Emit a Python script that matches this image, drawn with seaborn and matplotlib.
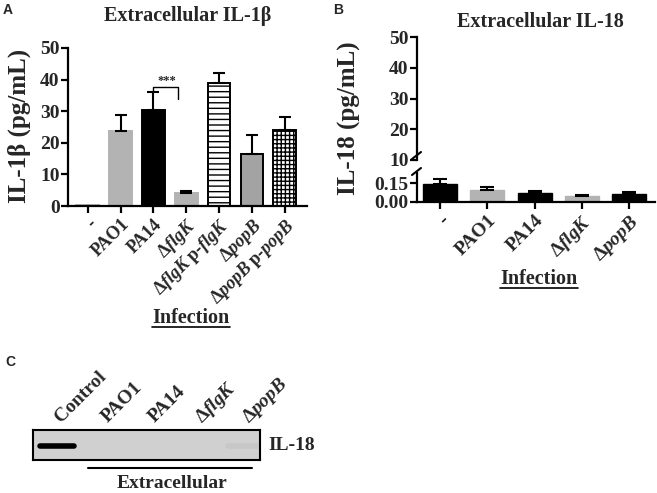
import numpy as np
import pandas as pd
import matplotlib
matplotlib.use("Agg")
import matplotlib.pyplot as plt
from matplotlib.lines import Line2D
import seaborn as sns

# panel A - extracellular IL-1b
strains_a = ["-", "PAO1", "PA14", "dflgK", "dflgK p-flgK", "dpopB", "dpopB p-popB"]
ticks_a = ["-", "PAO1", "PA14", r"Δ$\it{flgK}$", r"Δ$\it{flgK}$ p-$\it{flgK}$",
           r"Δ$\it{popB}$", r"Δ$\it{popB}$ p-$\it{popB}$"]
il1b_mean = [0.3, 23.8, 30.3, 4.1, 38.9, 16.3, 23.9]
il1b_err = [0.0, 5.0, 5.8, 0.8, 3.1, 6.3, 4.3]
fill_a = ["#b3b3b3", "#b3b3b3", "black", "#b3b3b3", "white", "#a3a3a3", "white"]
edge_a = ["#b3b3b3", "#b3b3b3", "black", "#b3b3b3", "black", "black", "black"]
hatch_a = ["", "", "", "", "---", "", "++++"]

# panel B - extracellular IL-18
strains_b = ["-", "PAO1", "PA14", "dflgK", "dpopB"]
ticks_b = ["-", "PAO1", "PA14", r"Δ$\it{flgK}$", r"Δ$\it{popB}$"]
il18_mean = [0.142, 0.095, 0.070, 0.050, 0.063]
il18_err = [0.038, 0.025, 0.015, 0.006, 0.014]
fill_b = ["black", "#b3b3b3", "black", "#b3b3b3", "black"]

# panel C - western blot lanes
lanes = ["Control", "PAO1", "PA14", r"Δ$\it{flgK}$", r"Δ$\it{popB}$"]
band = [1.0, 0.0, 0.0, 0.0, 0.04]

sns.set_theme(style="ticks")
plt.rcParams["font.family"] = ["Liberation Serif", "DejaVu Serif"]
plt.rcParams["font.weight"] = "bold"
plt.rcParams["mathtext.fontset"] = "custom"
plt.rcParams["mathtext.rm"] = "Liberation Serif:bold"
plt.rcParams["mathtext.it"] = "Liberation Serif:italic:bold"
plt.rcParams["mathtext.bf"] = "Liberation Serif:bold"
plt.rcParams["hatch.linewidth"] = 1.0
plt.rcParams["axes.linewidth"] = 1.6

W, H = 657, 493
fig = plt.figure(figsize=(6.57, 4.93), dpi=100)


def fx(px):
    return px / W


def fy(py):
    return 1 - py / H


def style_axis(ax, ylab_size=14, xlab_size=13):
    ax.tick_params(axis="both", width=1.6, length=5, direction="out", color="black")
    ax.tick_params(axis="y", labelsize=ylab_size, pad=1)
    ax.tick_params(axis="x", labelsize=xlab_size, pad=2)
    for s in ["left", "bottom"]:
        ax.spines[s].set_color("black")
    ax.set_facecolor("white")


# ---------- A ----------
ax_a = fig.add_axes([fx(68), fy(206), fx(307 - 68), (206 - 48) / H])
df_a = pd.DataFrame({"strain": strains_a, "value": il1b_mean})
sns.barplot(data=df_a, x="strain", y="value", hue="strain", order=strains_a,
            hue_order=strains_a, palette=dict(zip(strains_a, fill_a)),
            saturation=1, width=0.69, errorbar=None, legend=False, ax=ax_a)
for p, ec, h in zip(ax_a.patches, edge_a, hatch_a):
    p.set_edgecolor(ec)
    p.set_linewidth(1.4)
    p.set_hatch(h)
idx = [i for i in range(len(il1b_err)) if il1b_err[i] > 0]
ax_a.errorbar(idx, [il1b_mean[i] for i in idx],
              yerr=[[0] * len(idx), [il1b_err[i] for i in idx]],
              fmt="none", ecolor="black", elinewidth=1.5, capsize=4.5, capthick=1.5, zorder=1)
ax_a.set_ylim(0, 50)
ax_a.set_yticks([0, 10, 20, 30, 40, 50])
ax_a.set_xlim(-0.6, 6.68)
ax_a.set_xticks(range(len(ticks_a)))
ax_a.set_xticklabels(ticks_a, rotation=45, ha="right", rotation_mode="anchor")
ax_a.set_xlabel("")
ax_a.set_ylabel("")
sns.despine(ax=ax_a)
style_axis(ax_a, 14, 13)
# significance bracket PA14 vs dflgK
ax_a.plot([2, 2, 2.75, 2.75], [36.3, 37.7, 37.7, 34.0], color="black", lw=1.0)
ax_a.text(2.4, 37.6, "***", ha="center", va="bottom", fontsize=9)

# ---------- B (broken axis) ----------
ax_bt = fig.add_axes([fx(417), fy(160), fx(655 - 417), (160 - 37) / H])
ax_bb = fig.add_axes([fx(417), fy(202), fx(655 - 417), (202 - 173) / H])
df_b = pd.DataFrame({"strain": strains_b, "value": il18_mean})
sns.barplot(data=df_b, x="strain", y="value", hue="strain", order=strains_b,
            hue_order=strains_b, palette=dict(zip(strains_b, fill_b)),
            saturation=1, width=0.72, errorbar=None, legend=False, ax=ax_bb)
for p, c in zip(ax_bb.patches, fill_b):
    p.set_edgecolor(c)
ax_bb.errorbar(range(len(strains_b)), il18_mean,
               yerr=[[0] * len(il18_err), il18_err],
               fmt="none", ecolor="black", elinewidth=1.5, capsize=5, capthick=1.5, zorder=1)
for ax in (ax_bt, ax_bb):
    ax.set_xlim(-0.49, 4.55)
    ax.set_xlabel("")
    ax.set_ylabel("")
ax_bt.set_ylim(10, 50)
ax_bt.set_yticks([10, 20, 30, 40, 50])
ax_bt.set_xticks([])
sns.despine(ax=ax_bt, bottom=True)
style_axis(ax_bt, 14, 13)
ax_bb.set_ylim(0, 0.23)
ax_bb.set_yticks([0, 0.15])
ax_bb.set_yticklabels(["0.00", "0.15"])
ax_bb.set_xticks(range(len(ticks_b)))
ax_bb.set_xticklabels(ticks_b, rotation=45, ha="right", rotation_mode="anchor")
sns.despine(ax=ax_bb)
style_axis(ax_bb, 14, 14)
for y0 in (159, 175):
    fig.add_artist(Line2D([fx(412), fx(421)], [fy(y0), fy(y0 - 7)], color="black", lw=1.5))

# ---------- C (blot) ----------
ax_c = fig.add_axes([fx(33), fy(460), fx(260 - 33), 30 / H])
ax_c.set_facecolor("#d0d0d0")
for i, b in enumerate(band):
    if b > 0:
        ax_c.plot([i - 0.36, i + 0.36], [0, 0], color="black", alpha=b, lw=4,
                  solid_capstyle="round")
ax_c.set_xlim(-0.52, 4.33)
ax_c.set_ylim(-1, 1.1)
ax_c.set_xticks([])
ax_c.set_yticks([])
for s in ax_c.spines.values():
    s.set_visible(True)
    s.set_color("black")
    s.set_linewidth(1.5)
for i, lab in enumerate(lanes):
    ax_c.text(i + 0.08, 1.22, lab, transform=ax_c.get_xaxis_transform(),
              rotation=45, ha="left", va="baseline", rotation_mode="anchor", fontsize=14)
fig.text(fx(268), fy(445), "IL-18", ha="left", va="center", fontsize=14)
fig.add_artist(Line2D([fx(88), fx(252)], [fy(468), fy(468)], color="black", lw=1.5))
fig.text(fx(172), fy(484), "Extracellular", ha="center", va="center", fontsize=14)

# ---------- titles, labels ----------
fig.text(fx(188), fy(16), "Extracellular IL-1β", ha="center", va="center", fontsize=14.5)
fig.text(fx(540), fy(22), "Extracellular IL-18", ha="center", va="center", fontsize=14.5)
fig.text(fx(19), fy(126), "IL-1β (pg/mL)", rotation=90, ha="center", va="center", fontsize=18)
fig.text(fx(349), fy(118), "IL-18 (pg/mL)", rotation=90, ha="center", va="center", fontsize=18)
inf_a = fig.text(fx(191), fy(318), "Infection", ha="center", va="center", fontsize=14.5)
inf_b = fig.text(fx(539), fy(279), "Infection", ha="center", va="center", fontsize=14.5)
for lab, (x, y) in zip("ABC", [(8, 10), (338, 10), (10, 362)]):
    fig.text(fx(x), fy(y), lab, ha="center", va="center", fontsize=10,
             family="Liberation Sans", weight="bold")

fig.canvas.draw()
for t in (inf_a, inf_b):
    bb = t.get_window_extent()
    fig.add_artist(Line2D([bb.x0 / W, bb.x1 / W], [(bb.y0 + 1) / H, (bb.y0 + 1) / H],
                          color="black", lw=1.2))

fig.savefig("out.png", dpi=100)
